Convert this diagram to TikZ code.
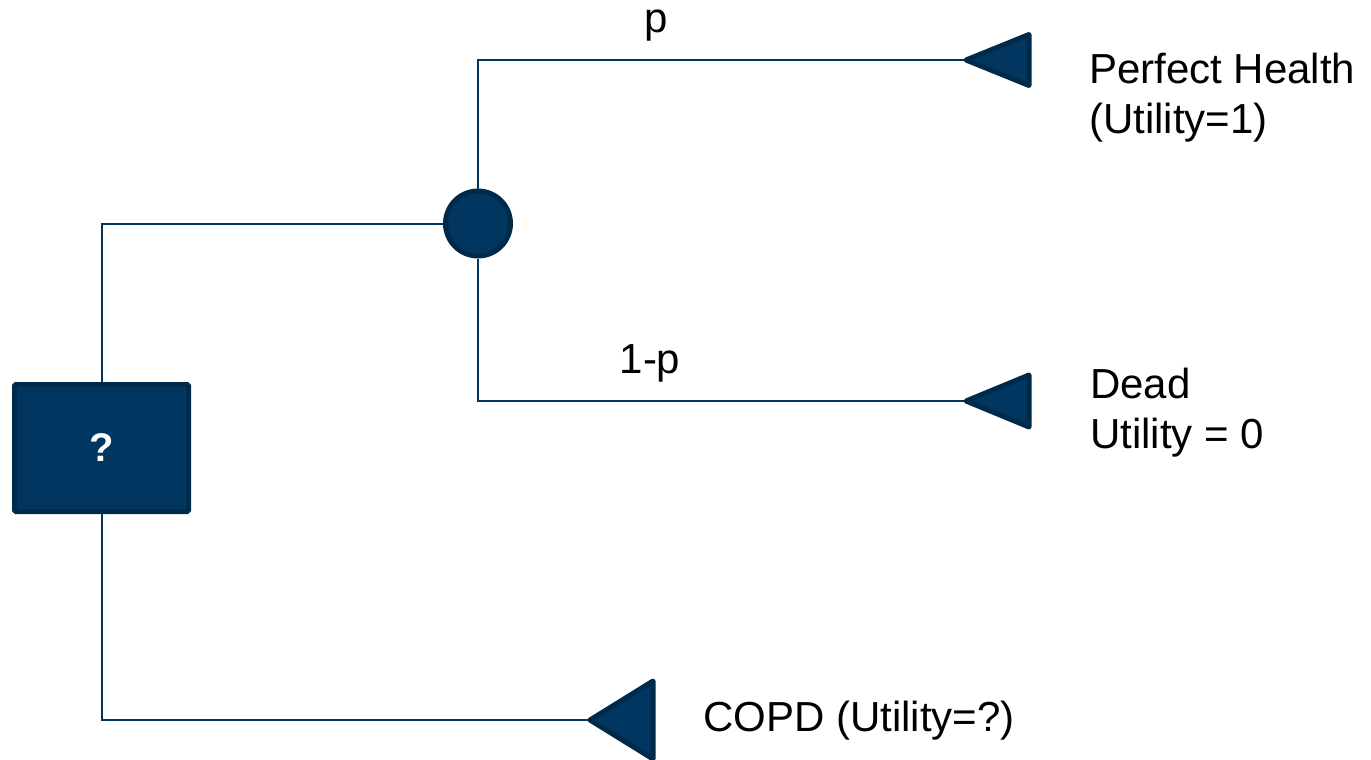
\documentclass[tikz,border=0pt]{standalone}
\usepackage{fontspec}
\setmainfont{Liberation Sans}
\definecolor{navy}{HTML}{003660}
\definecolor{navyedge}{HTML}{002A4A}
\tikzset{
  conn/.style={draw=navy, line width=2pt},
  decisionbox/.style={rectangle, fill=navy, draw=navyedge, line width=5pt, rounded corners=1.5pt, minimum width=174pt, minimum height=127pt, inner sep=0pt, text=white, font=\fontsize{40}{48}\selectfont\bfseries},
  chancenode/.style={circle, fill=navy, draw=navyedge, line width=5pt, minimum size=65pt, inner sep=0pt},
  termtri/.style={fill=navy, draw=navyedge, line width=5pt, line join=round},
  lbl/.style={inner sep=0pt, font=\fontsize{42}{50}\selectfont, align=left, text=black}
}
\begin{document}
\begin{tikzpicture}[x=1pt, y=-1pt]
\useasboundingbox (0,0) rectangle (1371,760);
\node[decisionbox] (dec) at (101.5,448) {?};
\node[chancenode] (ch) at (478,223.5) {};
\coordinate (t1) at (966,60);
\coordinate (t2) at (966,401);
\coordinate (t3) at (590,720);
\draw[conn] (dec.north) |- (ch.west);
\draw[conn] (dec.south) |- (t3);
\draw[conn] (ch.north) |- (t1);
\draw[conn] (ch.south) |- (t2);
\draw[termtri] (t1) -- (1029,34.5) -- (1029,85.5) -- cycle;
\draw[termtri] (t2) -- (1029,375) -- (1029,427) -- cycle;
\draw[termtri] (t3) -- (653,681) -- (653,759) -- cycle;
\node[lbl, anchor=base] (lp) at (656,33) {p};
\node[lbl, anchor=base] (lq) at (650,373) {1-p};
\node[lbl, anchor=base west] (lph) at (1089,133) {Perfect Health\\(Utility=1)};
\node[lbl, anchor=base west] (ldead) at (1090,448) {Dead\\Utility = 0};
\node[lbl, anchor=base west] (lcopd) at (703,731) {COPD (Utility=?)};
\end{tikzpicture}
\end{document}
